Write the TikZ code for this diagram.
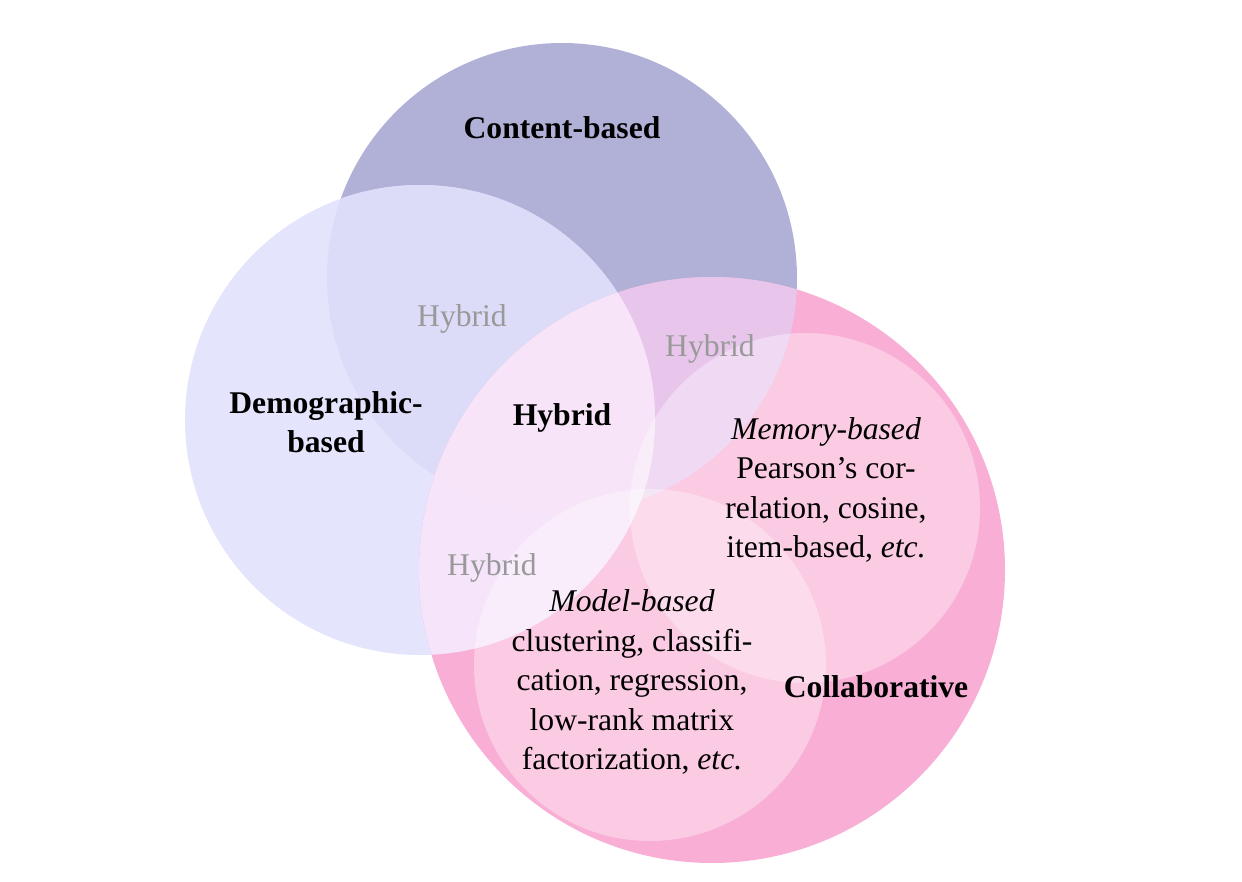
\documentclass[tikz,border=0pt]{standalone}
\usepackage{fontspec}
\setmainfont{Liberation Serif}
\definecolor{cont}{RGB}{177,177,216}
\definecolor{demo}{RGB}{228,228,252}
\definecolor{contdemo}{RGB}{220,220,248}
\definecolor{coll}{RGB}{249,175,213}
\definecolor{collcont}{RGB}{232,198,236}
\definecolor{colldemo}{RGB}{246,228,250}
\definecolor{collall}{RGB}{248,228,248}
\begin{document}
\begin{tikzpicture}[x=0.02cm,y=-0.02cm,
  lab/.style={font=\fontsize{18}{22.5}\selectfont, align=center},
  blab/.style={lab, font=\fontsize{18}{22.5}\selectfont\bfseries},
  hyb/.style={lab, text=black!40}]
\useasboundingbox (0,0) rectangle (1242,882);
\def\Cc{(562,278) circle (235)}
\def\Cd{(420,420) circle (235)}
\def\Cl{(712,570) circle (293)}
\fill[cont] \Cc;
\fill[demo] \Cd;
\begin{scope}\clip \Cc; \fill[contdemo] \Cd; \end{scope}
\fill[coll] \Cl;
\begin{scope}\clip \Cl; \fill[collcont] \Cc; \fill[colldemo] \Cd;
  \clip \Cc; \fill[collall] \Cd; \end{scope}
\fill[white, opacity=0.35] (805,508) circle (175);
\fill[white, opacity=0.35] (650,665) circle (176);
\node[blab] (cb) at (562,128) {Content-based};
\node[blab] (db) at (326,422) {Demographic-\\based};
\node[blab] (hy) at (562,418) {Hybrid};
\node[blab] (co) at (876,687) {Collaborative};
\node[hyb] (h1) at (462,319) {Hybrid};
\node[hyb] (h2) at (710,349) {Hybrid};
\node[hyb] (h3) at (492,568) {Hybrid};
\node[lab] (mem) at (826,490) {\itshape Memory-based\\Pearson’s cor-\\relation, cosine,\\item-based, \itshape etc.};
\node[lab] (mod) at (632,682) {\itshape Model-based\\clustering, classifi-\\cation, regression,\\low-rank matrix\\factorization, \itshape etc.};
\end{tikzpicture}
\end{document}
